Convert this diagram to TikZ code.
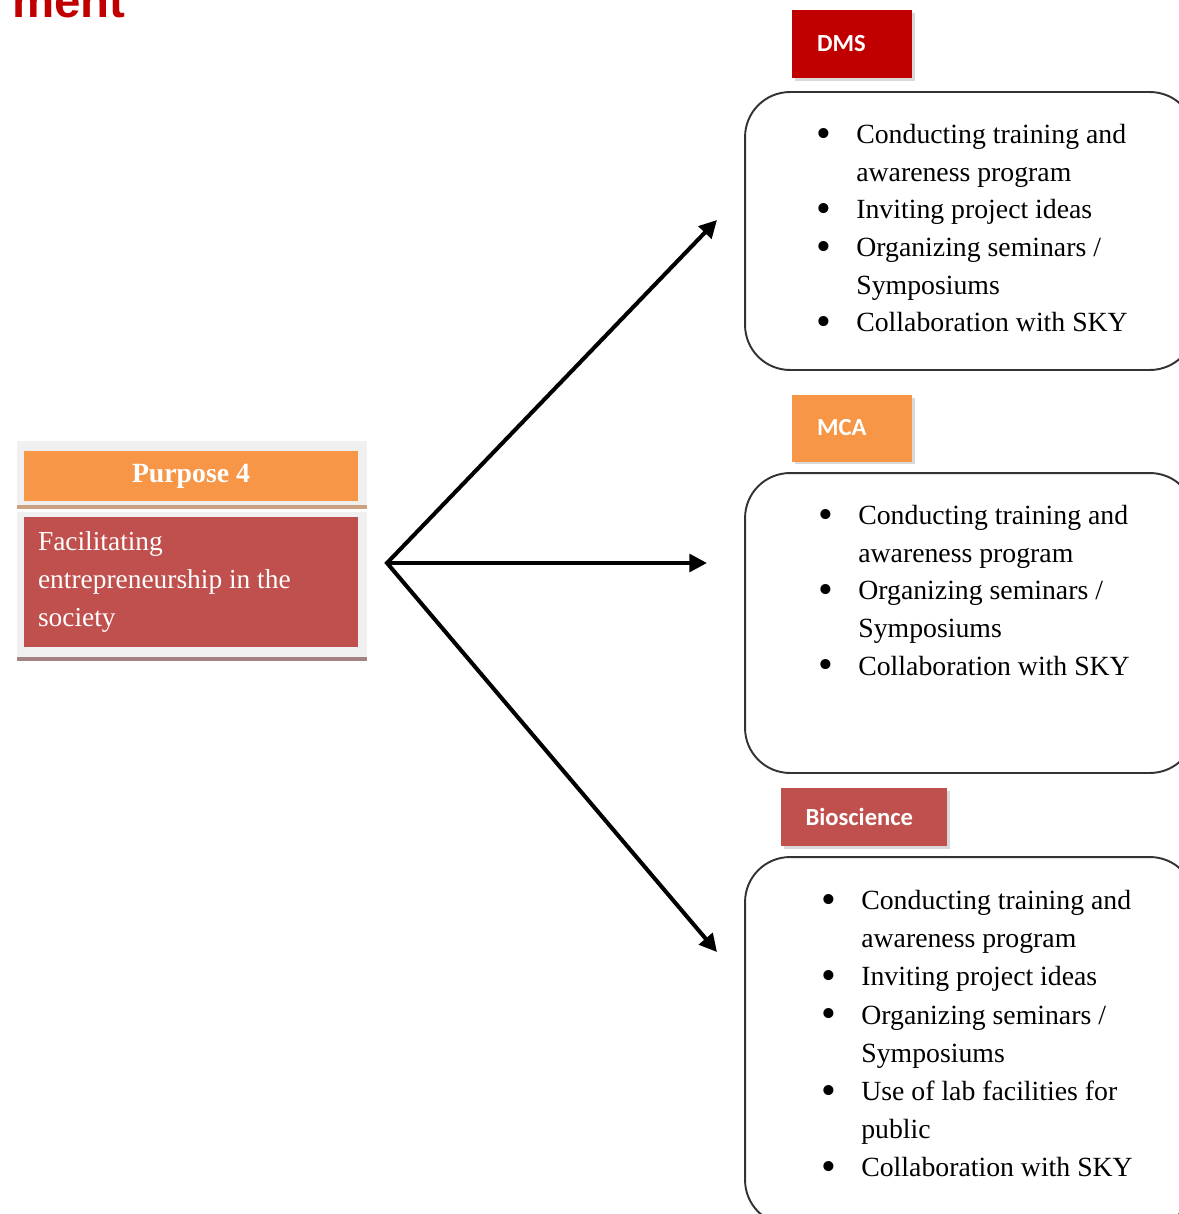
\documentclass[tikz,border=0pt]{standalone}
\usepackage{fontspec}
\setmainfont{Liberation Serif}
\newfontfamily\tagfont{Carlito}
\newfontfamily\headfont{Liberation Sans}
\usepackage{xcolor}
\usepackage{tikz}
\usetikzlibrary{positioning,arrows.meta,shadows}

\definecolor{dmsred}{HTML}{C00000}
\definecolor{mcaorange}{HTML}{F79646}
\definecolor{biored}{HTML}{C0504D}
\definecolor{panelgray}{HTML}{F0F0F0}

\newcommand{\bul}{\makebox[0.8cm][l]{\smash{\raisebox{-2.2pt}{\fontsize{24}{24}\selectfont\textbullet}}}}
\newcommand{\ind}{\makebox[0.8cm][l]{}}

\begin{document}
\begin{tikzpicture}
      [ x=0.02cm, y=-0.02cm,
        tag/.style={fill=#1, text=white, inner xsep=0.5cm, inner ysep=0pt,
          align=flush left, font=\tagfont\bfseries\fontsize{14}{16}\selectfont,
          drop shadow={shadow xshift=0.06cm, shadow yshift=-0.06cm, opacity=0.3}},
        unit/.style={draw=black!80, line width=1.1pt, rounded corners=0.9cm,
          minimum width=9cm},
        items/.style={anchor=north west, inner sep=0pt, align=flush left,
          font=\fontsize{15.8}{21.4}\selectfont},
        conn/.style={line width=2.3pt, {Triangle[length=10pt,width=10pt]}-{Triangle[length=10pt,width=10pt]}},
        conn1/.style={line width=2.3pt, -{Triangle[length=10pt,width=10pt]}}
      ]
      \useasboundingbox (0,0) rectangle (1179,1214);

      % heading remnant
      \node[anchor=base west, inner sep=0pt, text=dmsred,
            font=\headfont\bfseries\fontsize{27}{30}\selectfont] (head) at (12,17) {ment};

      % purpose block
      \fill[panelgray] (17,441) rectangle (367,505);
      \fill[panelgray] (17,512) rectangle (367,660);
      \draw[line width=2.5pt, draw={rgb,255:red,205;green,160;blue,130}] (17,507) -- (367,507);
      \draw[line width=2.5pt, draw={rgb,255:red,165;green,130;blue,130}] (17,659) -- (367,659);
      \node[fill=mcaorange, text=white, minimum width=6.68cm, minimum height=1cm,
            font=\bfseries\fontsize{15.8}{21.4}\selectfont] (purpose) at (191,476) {Purpose 4};
      \node[fill=biored, text=white, text width=6.12cm, inner xsep=0.28cm,
            minimum height=2.6cm, align=flush left,
            font=\fontsize{15.6}{21.4}\selectfont] (facil) at (191,582)
            {Facilitating\\entrepreneurship in the\\society};

      % department tags
      \node[tag=dmsred, text width=1.4cm, minimum height=1.36cm] (dms) at (852,44) {DMS};
      \node[tag=mcaorange, text width=1.4cm, minimum height=1.34cm] (mca) at (852,428) {MCA};
      \node[tag=biored, text width=2.34cm, minimum height=1.16cm] (bio) at (864,817) {Bioscience};

      % activity boxes
      \node[unit, minimum height=5.56cm] (dmsbox) at (970,231) {};
      \node[unit, minimum height=6cm] (mcabox) at (970,623) {};
      \node[unit, minimum height=7.36cm] (biobox) at (970,1041) {};

      \node[items] (dmslist) at (816,124)
        {\bul Conducting training and\\ \ind awareness program\\
         \bul Inviting project ideas\\ \bul Organizing seminars /\\
         \ind Symposiums\\ \bul Collaboration with SKY};
      \node[items] (mcalist) at (818,505)
        {\bul Conducting training and\\ \ind awareness program\\
         \bul Organizing seminars /\\ \ind Symposiums\\
         \bul Collaboration with SKY};
      \node[items, font=\fontsize{15.8}{21.7}\selectfont] (biolist) at (821,890)
        {\bul Conducting training and\\ \ind awareness program\\
         \bul Inviting project ideas\\ \bul Organizing seminars /\\
         \ind Symposiums\\ \bul Use of lab facilities for\\ \ind public\\
         \bul Collaboration with SKY};

      % connectors
      \coordinate (hub) at (387,563);
      \coordinate (dmsin) at (717,220);
      \coordinate (mcain) at (707,563);
      \coordinate (bioin) at (717,952);
      \draw[conn] (dmsin) -- (hub) -- (bioin);
      \draw[conn1] (hub) -- (mcain);
\end{tikzpicture}
\end{document}
